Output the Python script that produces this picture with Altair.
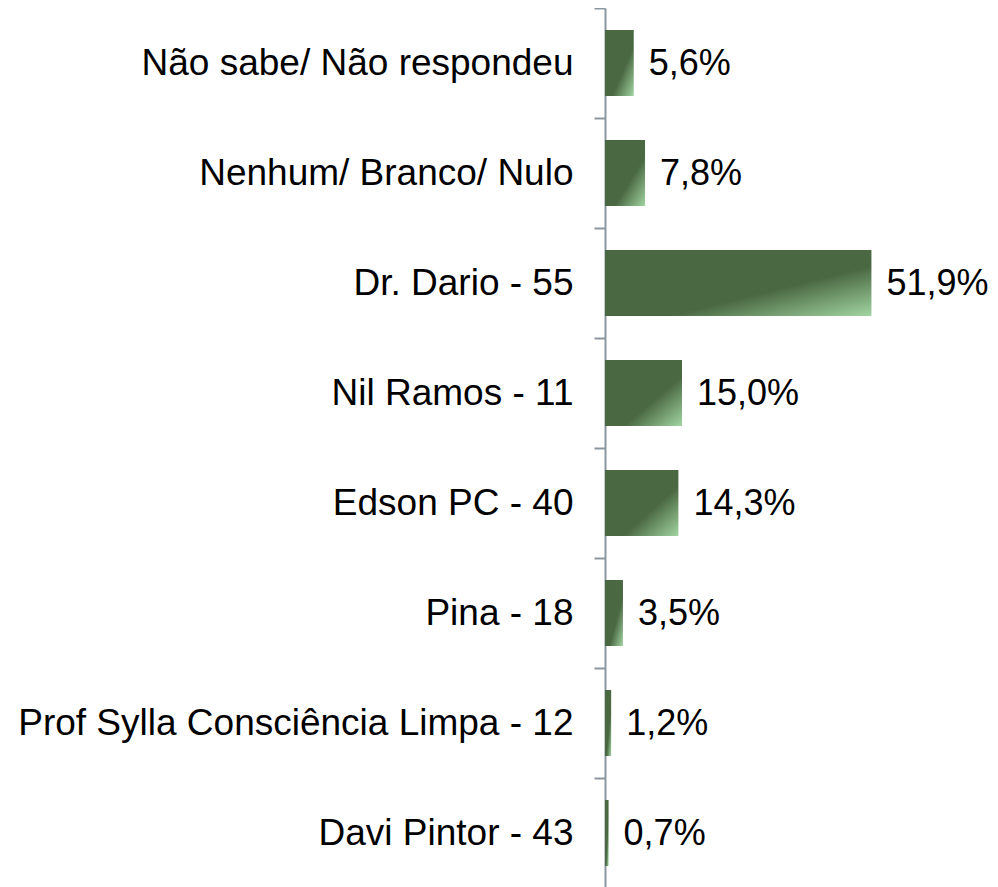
import altair as alt
import pandas as pd

categories = [
    "Não sabe/ Não respondeu",
    "Nenhum/ Branco/ Nulo",
    "Dr. Dario - 55",
    "Nil Ramos - 11",
    "Edson PC - 40",
    "Pina - 18",
    "Prof Sylla Consciência Limpa - 12",
    "Davi Pintor - 43",
]
values = [5.6, 7.8, 51.9, 15.0, 14.3, 3.5, 1.2, 0.7]
labels = ["5,6%", "7,8%", "51,9%", "15,0%", "14,3%", "3,5%", "1,2%", "0,7%"]

df = pd.DataFrame({"cat": categories, "val": values, "lab": labels})

FONT = "Liberation Sans"
DARK = "#4a6842"
LIGHT = "#a2d5a2"
AXIS = "#8c96a0"

grad = alt.Gradient(
    gradient="linear",
    x1=0, y1=0, x2=1, y2=1,
    stops=[
        alt.GradientStop(color=DARK, offset=0),
        alt.GradientStop(color=DARK, offset=0.62),
        alt.GradientStop(color=LIGHT, offset=1),
    ],
)

y_enc = alt.Y(
    "cat:N",
    sort=categories,
    scale=alt.Scale(paddingInner=0, paddingOuter=0),
    axis=alt.Axis(
        title=None,
        grid=False,
        tickBand="extent",
        domainColor=AXIS,
        domainWidth=2,
        tickColor=AXIS,
        tickWidth=2,
        tickSize=11,
        labelPadding=21,
        labelFont=FONT,
        labelFontSize=37,
        labelColor="#000000",
        labelLimit=800,
    ),
)
x_enc = alt.X(
    "val:Q",
    scale=alt.Scale(domain=[0, 75], nice=False, zero=True),
    axis=None,
)

bars = alt.Chart(df).mark_bar(
    color=grad, height=alt.RelativeBandSize(0.6)
).encode(x=x_enc, y=y_enc)

text = alt.Chart(df).mark_text(
    align="left", baseline="middle", dx=15, dy=1, font=FONT, fontSize=36, color="#000000"
).encode(x=x_enc, y=y_enc, text="lab:N")

chart = (
    alt.layer(bars, text)
    .properties(
        width=385,
        height=880,
        autosize=alt.AutoSizeParams(type="none"),
        padding={"left": 597, "top": 0, "right": 0, "bottom": 0},
        view=alt.ViewBackground(strokeOpacity=0, strokeWidth=0),
    )
    .configure_view(strokeOpacity=0, strokeWidth=0)
    .configure_axis(grid=False, gridColor="orange")
    .configure(background="#ffffff", style={"cell": {"strokeOpacity": 0, "strokeWidth": 0}})
)

chart.save("out.html", embed_options={"renderer": "svg", "actions": False})
